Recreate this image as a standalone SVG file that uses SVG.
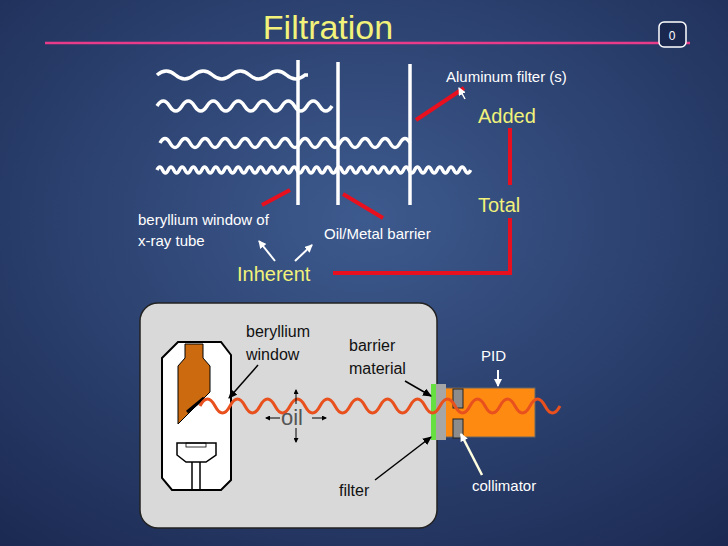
<svg xmlns="http://www.w3.org/2000/svg" width="728" height="546" viewBox="0 0 728 546">
<defs>
<radialGradient id="bg" cx="0.5" cy="0.4" r="0.8"><stop offset="0" stop-color="#3d5a8e"/><stop offset="1" stop-color="#1a2850"/></radialGradient>
<marker id="wa" markerWidth="8" markerHeight="8" refX="7" refY="4" orient="auto" markerUnits="userSpaceOnUse"><path d="M0,0 L8,4 L0,8 z" fill="#fff"/></marker>
<marker id="ba" markerWidth="9" markerHeight="8" refX="8" refY="4" orient="auto" markerUnits="userSpaceOnUse"><path d="M0,0 L9,4 L0,8 z" fill="#000"/></marker>
<marker id="sa" markerWidth="5" markerHeight="5" refX="4" refY="2.5" orient="auto" markerUnits="userSpaceOnUse"><path d="M0,0 L5,2.5 L0,5 z" fill="#000"/></marker>
<style>
.w{fill:none;stroke:#fff;stroke-width:3.5}
.wl{stroke:#fff;stroke-width:3.5}
.r{stroke:#e8101e;stroke-width:4;fill:none}
.t{font-family:"Liberation Sans",Arial,sans-serif}
.wt{fill:#fff;font-size:15px}
.yt{fill:#f2f27a;font-size:20px}
.bt{fill:#111;font-size:16px}
</style>
</defs>
<rect width="728" height="546" fill="url(#bg)"/>
<g id="title"><text class="t" x="328" y="39" text-anchor="middle" font-size="34" fill="#f2f27a">Filtration</text>
<line x1="45" y1="43" x2="690" y2="43" stroke="#e83b8a" stroke-width="2.5"/>
<rect x="659" y="22" width="27" height="25" rx="5" fill="#1a2850" stroke="#fff" stroke-width="1.5"/>
<text class="t" x="672" y="40" text-anchor="middle" font-size="12" fill="#fff">0</text></g>
<g id="waves">
<path class="w" d="M157,75 q9.25,-8 18.5,0 t18.5,0 t18.5,0 t18.5,0 t18.5,0 t18.5,0 t18.5,0 t18.5,0 l3,0"/>
<path class="w" d="M157,106 q6.25,-10 12.5,0 t12.5,0 t12.5,0 t12.5,0 t12.5,0 t12.5,0 t12.5,0 t12.5,0 t12.5,0 t12.5,0 t12.5,0 t12.5,0 t12.5,0 t12.5,0"/>
<path class="w" d="M160,143 q5,-9 10,0 t10,0 t10,0 t10,0 t10,0 t10,0 t10,0 t10,0 t10,0 t10,0 t10,0 t10,0 t10,0 t10,0 t10,0 t10,0 t10,0 t10,0 t10,0 t10,0 t10,0 t10,0 t10,0 t10,0 t10,0"/>
<path class="w" d="M157,170 q2.8,-6 5.6,0 t5.6,0 t5.6,0 t5.6,0 t5.6,0 t5.6,0 t5.6,0 t5.6,0 t5.6,0 t5.6,0 t5.6,0 t5.6,0 t5.6,0 t5.6,0 t5.6,0 t5.6,0 t5.6,0 t5.6,0 t5.6,0 t5.6,0 t5.6,0 t5.6,0 t5.6,0 t5.6,0 t5.6,0 t5.6,0 t5.6,0 t5.6,0 t5.6,0 t5.6,0 t5.6,0 t5.6,0 t5.6,0 t5.6,0 t5.6,0 t5.6,0 t5.6,0 t5.6,0 t5.6,0 t5.6,0 t5.6,0 t5.6,0 t5.6,0 t5.6,0 t5.6,0 t5.6,0 t5.6,0 t5.6,0 t5.6,0 t5.6,0 t5.6,0 t5.6,0 t5.6,0 t5.6,0 t5.6,0 t5.6,0"/>
<line class="wl" x1="298" y1="60" x2="298" y2="205"/>
<line class="wl" x1="338" y1="62" x2="338" y2="205"/>
<line class="wl" x1="410" y1="64" x2="410" y2="205"/>
</g>
<g id="connectors">
<line class="r" x1="416" y1="120" x2="464" y2="88"/>
<line class="r" x1="290" y1="190" x2="262" y2="205"/>
<line class="r" x1="343" y1="194" x2="383" y2="218"/>
<polyline class="r" points="510,128 510,185"/>
<polyline class="r" points="510,218 510,273 333,273"/>
<line x1="465" y1="99" x2="459" y2="88" stroke="#fff" stroke-width="1.5" marker-end="url(#wa)"/>
<line x1="275" y1="261" x2="259" y2="241" stroke="#fff" stroke-width="2" marker-end="url(#wa)"/>
<line x1="295" y1="261" x2="312" y2="245" stroke="#fff" stroke-width="2" marker-end="url(#wa)"/>
</g>
<g id="labels-top" class="t">
<text class="wt" x="446" y="82" font-size="14">Aluminum filter (s)</text>
<text class="t yt" x="478" y="123">Added</text>
<text class="t yt" x="478" y="212" font-size="24">Total</text>
<text class="t yt" x="237" y="281">Inherent</text>
<text class="wt" x="138" y="225">beryllium window of</text>
<text class="wt" x="138" y="246">x-ray tube</text>
<text class="wt" x="324" y="239">Oil/Metal barrier</text>
</g>
<g id="oilbox">
<rect x="140" y="303" width="297" height="225" rx="18" fill="#d9d9d9" stroke="#222" stroke-width="1.5"/>
</g>
<g id="tube">
<path d="M162,358 L178,342 L221,342 L231,355 L231,480 L221,490 L172,490 L162,478 Z" fill="#fff" stroke="#000" stroke-width="2"/>
<path d="M185,344 L203,344 L203,358 L210,366 L210,392 L178,424 L178,366 L185,358 Z" fill="#cc6a10" stroke="#000" stroke-width="1"/>
<line x1="187" y1="412" x2="204" y2="398" stroke="#000" stroke-width="3"/>
<path d="M177,443 L216,443 L216,455 L206,462 L186,462 L177,455 Z" fill="#fff" stroke="#000" stroke-width="1.5"/>
<rect x="186" y="443" width="20" height="4" fill="none" stroke="#000" stroke-width="0.8"/>
<line x1="192" y1="462" x2="192" y2="490" stroke="#000" stroke-width="1.5"/>
<line x1="200" y1="462" x2="200" y2="490" stroke="#000" stroke-width="1.5"/>
</g>
<g id="pid">
<rect x="445" y="388" width="90" height="49" fill="#ff8a12" stroke="#666" stroke-width="1"/>
<rect x="453" y="389" width="10" height="19" fill="#8c8c8c" stroke="#222" stroke-width="1"/>
<rect x="453" y="419" width="10" height="19" fill="#8c8c8c" stroke="#222" stroke-width="1"/>
</g>
<g id="filter">
<rect x="436" y="384" width="10" height="56" fill="#a6a6a6"/>
<rect x="431" y="384" width="5" height="56" fill="#66e040"/>
</g>
<g id="beam">
<path d="M200,406 q7.5,-14 15,0 t15,0 t15,0 t15,0 t15,0 t15,0 t15,0 t15,0 t15,0 t15,0 t15,0 t15,0 t15,0 t15,0 t15,0 t15,0 t15,0 t15,0 t15,0 t15,0 t15,0 t15,0 t15,0 t15,0" fill="none" stroke="#e8501e" stroke-width="3"/>
</g>
<g id="labels-bottom">
<text class="t bt" x="246" y="337">beryllium</text>
<text class="t bt" x="246" y="360">window</text>
<line x1="258" y1="365" x2="229" y2="398" stroke="#000" stroke-width="1.5" marker-end="url(#ba)"/>
<text class="t" x="281" y="425" font-size="22" fill="#555">oil</text>
<line x1="296" y1="404" x2="296" y2="390" stroke="#000" stroke-width="1" marker-end="url(#sa)"/>
<line x1="296" y1="428" x2="296" y2="442" stroke="#000" stroke-width="1" marker-end="url(#sa)"/>
<line x1="280" y1="418" x2="266" y2="418" stroke="#000" stroke-width="1" marker-end="url(#sa)"/>
<line x1="312" y1="418" x2="326" y2="418" stroke="#000" stroke-width="1" marker-end="url(#sa)"/>
<text class="t bt" x="349" y="351">barrier</text>
<text class="t bt" x="349" y="374">material</text>
<line x1="405" y1="381" x2="431" y2="396" stroke="#000" stroke-width="1.5" marker-end="url(#ba)"/>
<text class="t bt" x="339" y="496">filter</text>
<line x1="375" y1="480" x2="431" y2="437" stroke="#000" stroke-width="1.5" marker-end="url(#ba)"/>
<text class="t wt" x="481" y="361" font-size="17">PID</text>
<line x1="498" y1="370" x2="498" y2="386" stroke="#fff" stroke-width="2" marker-end="url(#wa)"/>
<text class="t wt" x="472" y="491" font-size="17">collimator</text>
<line x1="482" y1="475" x2="461" y2="434" stroke="#ffffe0" stroke-width="2.5" marker-end="url(#wa)"/>
</g>
</svg>
